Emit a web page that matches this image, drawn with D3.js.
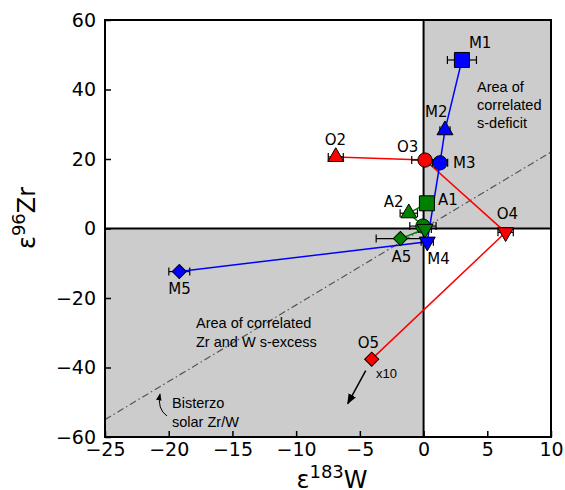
<!DOCTYPE html>
<html>
<head>
<meta charset="utf-8">
<script src="https://cdn.jsdelivr.net/npm/d3@7.9.0/dist/d3.min.js"></script>
<style>
  body { margin: 0; background: #fff; }
  svg text { font-family: "DejaVu Sans", sans-serif; }
  .note { font-family: "Liberation Sans", Arial, sans-serif; font-size: 14.5px; }
</style>
</head>
<body>
<svg id="chart" width="565" height="490"></svg>
<script>
// --- data (eps units) ---
const mNames = ['M1', 'M2', 'M3', 'M4', 'M5'];
const mW = [3.01, 1.68, 1.29, 0.29, -19.17];
const mZr = [48.5, 28.3, 18.9, -3.8, -12.4];
const mWerr = [1.14, 0.4, 0.6, 0.48, 0.82];

const oNames = ['O2', 'O3', 'O4', 'O5'];
const oW = [-6.89, 0.11, 6.44, -4.07];
const oZr = [20.6, 19.7, -1.1, -37.6];
const oWerr = [0.59, 1.04, 0.6, 0];

const aNames = ['A1', 'A2', 'A3', 'A4', 'A5'];
const aW = [0.26, -1.16, -0.05, 0.11, -1.82];
const aZr = [7.25, 4.4, 0.7, -0.15, -2.9];
const aWerr = [0.3, 0.68, 1.03, 0.5, 1.9];

const xTicks = [-25, -20, -15, -10, -5, 0, 5, 10];
const yTicks = [-60, -40, -20, 0, 20, 40, 60];
const solarSlope = 2.2; // Bisterzo solar Zr/W

// --- layout ---
const svg = d3.select('#chart');
const plotL = 105, plotR = 551, plotT = 20, plotB = 437;

const x = d3.scaleLinear().domain([-25, 10]).range([plotL, plotR]);
const y = d3.scaleLinear().domain([-60, 60]).range([plotB, plotT]);

// marker shape follows sample number (1..5)
const shapeByNum = {
  1: { type: d3.symbolSquare, size: 225, rot: 0 },
  2: { type: d3.symbolTriangle, size: 110, rot: 0 },
  3: { type: d3.symbolCircle, size: 160, rot: 0 },
  4: { type: d3.symbolTriangle, size: 110, rot: 180 },
  5: { type: d3.symbolSquare, size: 100, rot: 45 },
};

// label offsets (px) relative to marker centre
const labelPos = {
  M1: [7, -17], M2: [-20, -18], M3: [13, 0], M4: [0, 17], M5: [-11, 17],
  O2: [-11, -17], O3: [-28, -13], O4: [-9, -18], O5: [-14, -16],
  A1: [11, -3], A2: [-25, -11], A5: [-9, 18],
};

function makeSeries(names, ws, zrs, errs, color) {
  return names.map((n, i) => ({
    name: n, w: ws[i], zr: zrs[i], err: errs[i], color,
    num: +n.slice(1),
  }));
}
const mSeries = makeSeries(mNames, mW, mZr, mWerr, '#0000ff');
const oSeries = makeSeries(oNames, oW, oZr, oWerr, '#ff0000');
const aSeries = makeSeries(aNames, aW, aZr, aWerr, '#008000');

// --- shaded quadrants ---
svg.append('rect')
  .attr('x', x(0)).attr('y', y(60))
  .attr('width', x(10) - x(0)).attr('height', y(0) - y(60))
  .attr('fill', '#cccccc');
svg.append('rect')
  .attr('x', x(-25)).attr('y', y(0))
  .attr('width', x(0) - x(-25)).attr('height', y(-60) - y(0))
  .attr('fill', '#cccccc');

// --- solar reference line ---
svg.append('line')
  .attr('x1', x(-25)).attr('y1', y(-25 * solarSlope))
  .attr('x2', x(10)).attr('y2', y(10 * solarSlope))
  .attr('stroke', '#555').attr('stroke-width', 1.2)
  .attr('stroke-dasharray', '7,3,1.5,3');

// --- zero lines ---
svg.append('line')
  .attr('x1', x(-25)).attr('x2', x(10)).attr('y1', y(0)).attr('y2', y(0))
  .attr('stroke', '#000').attr('stroke-width', 2);
svg.append('line')
  .attr('x1', x(0)).attr('x2', x(0)).attr('y1', y(-60)).attr('y2', y(60))
  .attr('stroke', '#000').attr('stroke-width', 2);

// --- connecting lines ---
const line = d3.line().x(d => x(d.w)).y(d => y(d.zr));
[oSeries, aSeries, mSeries].forEach(s => {
  svg.append('path')
    .attr('d', line(s))
    .attr('fill', 'none')
    .attr('stroke', s[0].color)
    .attr('stroke-width', 1.5);
});

// --- annotations ---
svg.append('text').attr('class', 'note')
  .attr('x', 477).attr('y', 92).text('Area of');
svg.append('text').attr('class', 'note')
  .attr('x', 477).attr('y', 110).text('correlated');
svg.append('text').attr('class', 'note')
  .attr('x', 477).attr('y', 128).text('s-deficit');

svg.append('text').attr('class', 'note')
  .attr('x', 196).attr('y', 328).text('Area of correlated');
svg.append('text').attr('class', 'note')
  .attr('x', 196).attr('y', 347).text('Zr and W s-excess');

svg.append('text').attr('class', 'note')
  .attr('x', 172).attr('y', 408).text('Bisterzo');
svg.append('text').attr('class', 'note')
  .attr('x', 172).attr('y', 427).text('solar Zr/W');

svg.append('defs').append('marker')
  .attr('id', 'head')
  .attr('viewBox', '0 0 10 10')
  .attr('refX', 9).attr('refY', 5)
  .attr('markerWidth', 7).attr('markerHeight', 7)
  .attr('orient', 'auto')
  .append('path').attr('d', 'M0,1 L10,5 L0,9 z').attr('fill', '#000');

svg.append('path')
  .attr('d', 'M167,416 Q157,409 160,394')
  .attr('fill', 'none').attr('stroke', '#000').attr('stroke-width', 1)
  .attr('marker-end', 'url(#head)');

svg.append('line')
  .attr('x1', x(-4.54)).attr('y1', y(-40.9))
  .attr('x2', x(-5.95)).attr('y2', y(-50.4))
  .attr('stroke', '#000').attr('stroke-width', 1.5)
  .attr('marker-end', 'url(#head)');
svg.append('text').attr('class', 'note')
  .attr('x', 376).attr('y', 378).style('font-size', '13px').text('x10');

// --- error bars and markers ---
const all = [...oSeries, ...aSeries, ...mSeries];
all.filter(d => d.err > 0).forEach(d => {
  const g = svg.append('g').attr('stroke', '#000').attr('stroke-width', 1.2);
  const cy = y(d.zr);
  g.append('line').attr('x1', x(d.w - d.err)).attr('x2', x(d.w + d.err))
    .attr('y1', cy).attr('y2', cy);
  [d.w - d.err, d.w + d.err].forEach(v => {
    g.append('line').attr('x1', x(v)).attr('x2', x(v))
      .attr('y1', cy - 4).attr('y2', cy + 4);
  });
});

all.forEach(d => {
  const s = shapeByNum[d.num];
  svg.append('path')
    .attr('d', d3.symbol().type(s.type).size(s.size)())
    .attr('transform', `translate(${x(d.w)},${y(d.zr)}) rotate(${s.rot})`)
    .attr('fill', d.color)
    .attr('stroke', '#000')
    .attr('stroke-width', 1);
});

// --- point labels ---
all.filter(d => labelPos[d.name]).forEach(d => {
  const [dx, dy] = labelPos[d.name];
  svg.append('text')
    .attr('x', x(d.w) + dx)
    .attr('y', y(d.zr) + dy)
    .attr('dominant-baseline', 'central')
    .style('font-size', '15px')
    .text(d.name);
});

// --- axes ---
const xAxis = svg.append('g')
  .attr('transform', `translate(0,${plotB})`)
  .call(d3.axisBottom(x).tickValues(xTicks).tickSize(-6).tickPadding(6));
const yAxis = svg.append('g')
  .attr('transform', `translate(${plotL},0)`)
  .call(d3.axisLeft(y).tickValues(yTicks).tickSize(-6).tickPadding(9));
[xAxis, yAxis].forEach(a => {
  a.select('.domain').remove();
  a.selectAll('.tick line').attr('stroke', '#000').attr('stroke-width', 1.5);
  a.selectAll('.tick text')
    .attr('fill', '#000')
    .style('font-family', '"DejaVu Sans", sans-serif')
    .style('font-size', '19px');
});

svg.append('rect')
  .attr('x', plotL).attr('y', plotT)
  .attr('width', plotR - plotL).attr('height', plotB - plotT)
  .attr('fill', 'none').attr('stroke', '#000').attr('stroke-width', 2);

// --- axis titles ---
const xt = svg.append('text')
  .attr('x', (plotL + plotR) / 2 + 4).attr('y', 488)
  .attr('text-anchor', 'middle').style('font-size', '24px');
xt.append('tspan').text('ε');
xt.append('tspan').attr('dy', -10).style('font-size', '18px').text('183');
xt.append('tspan').attr('dy', 10).text('W');

const yt = svg.append('text')
  .attr('transform', `translate(35,218) rotate(-90)`)
  .attr('text-anchor', 'middle').style('font-size', '24px');
yt.append('tspan').text('ε');
yt.append('tspan').attr('dy', -10).style('font-size', '18px').text('96');
yt.append('tspan').attr('dy', 10).text('Zr');
</script>
</body>
</html>
